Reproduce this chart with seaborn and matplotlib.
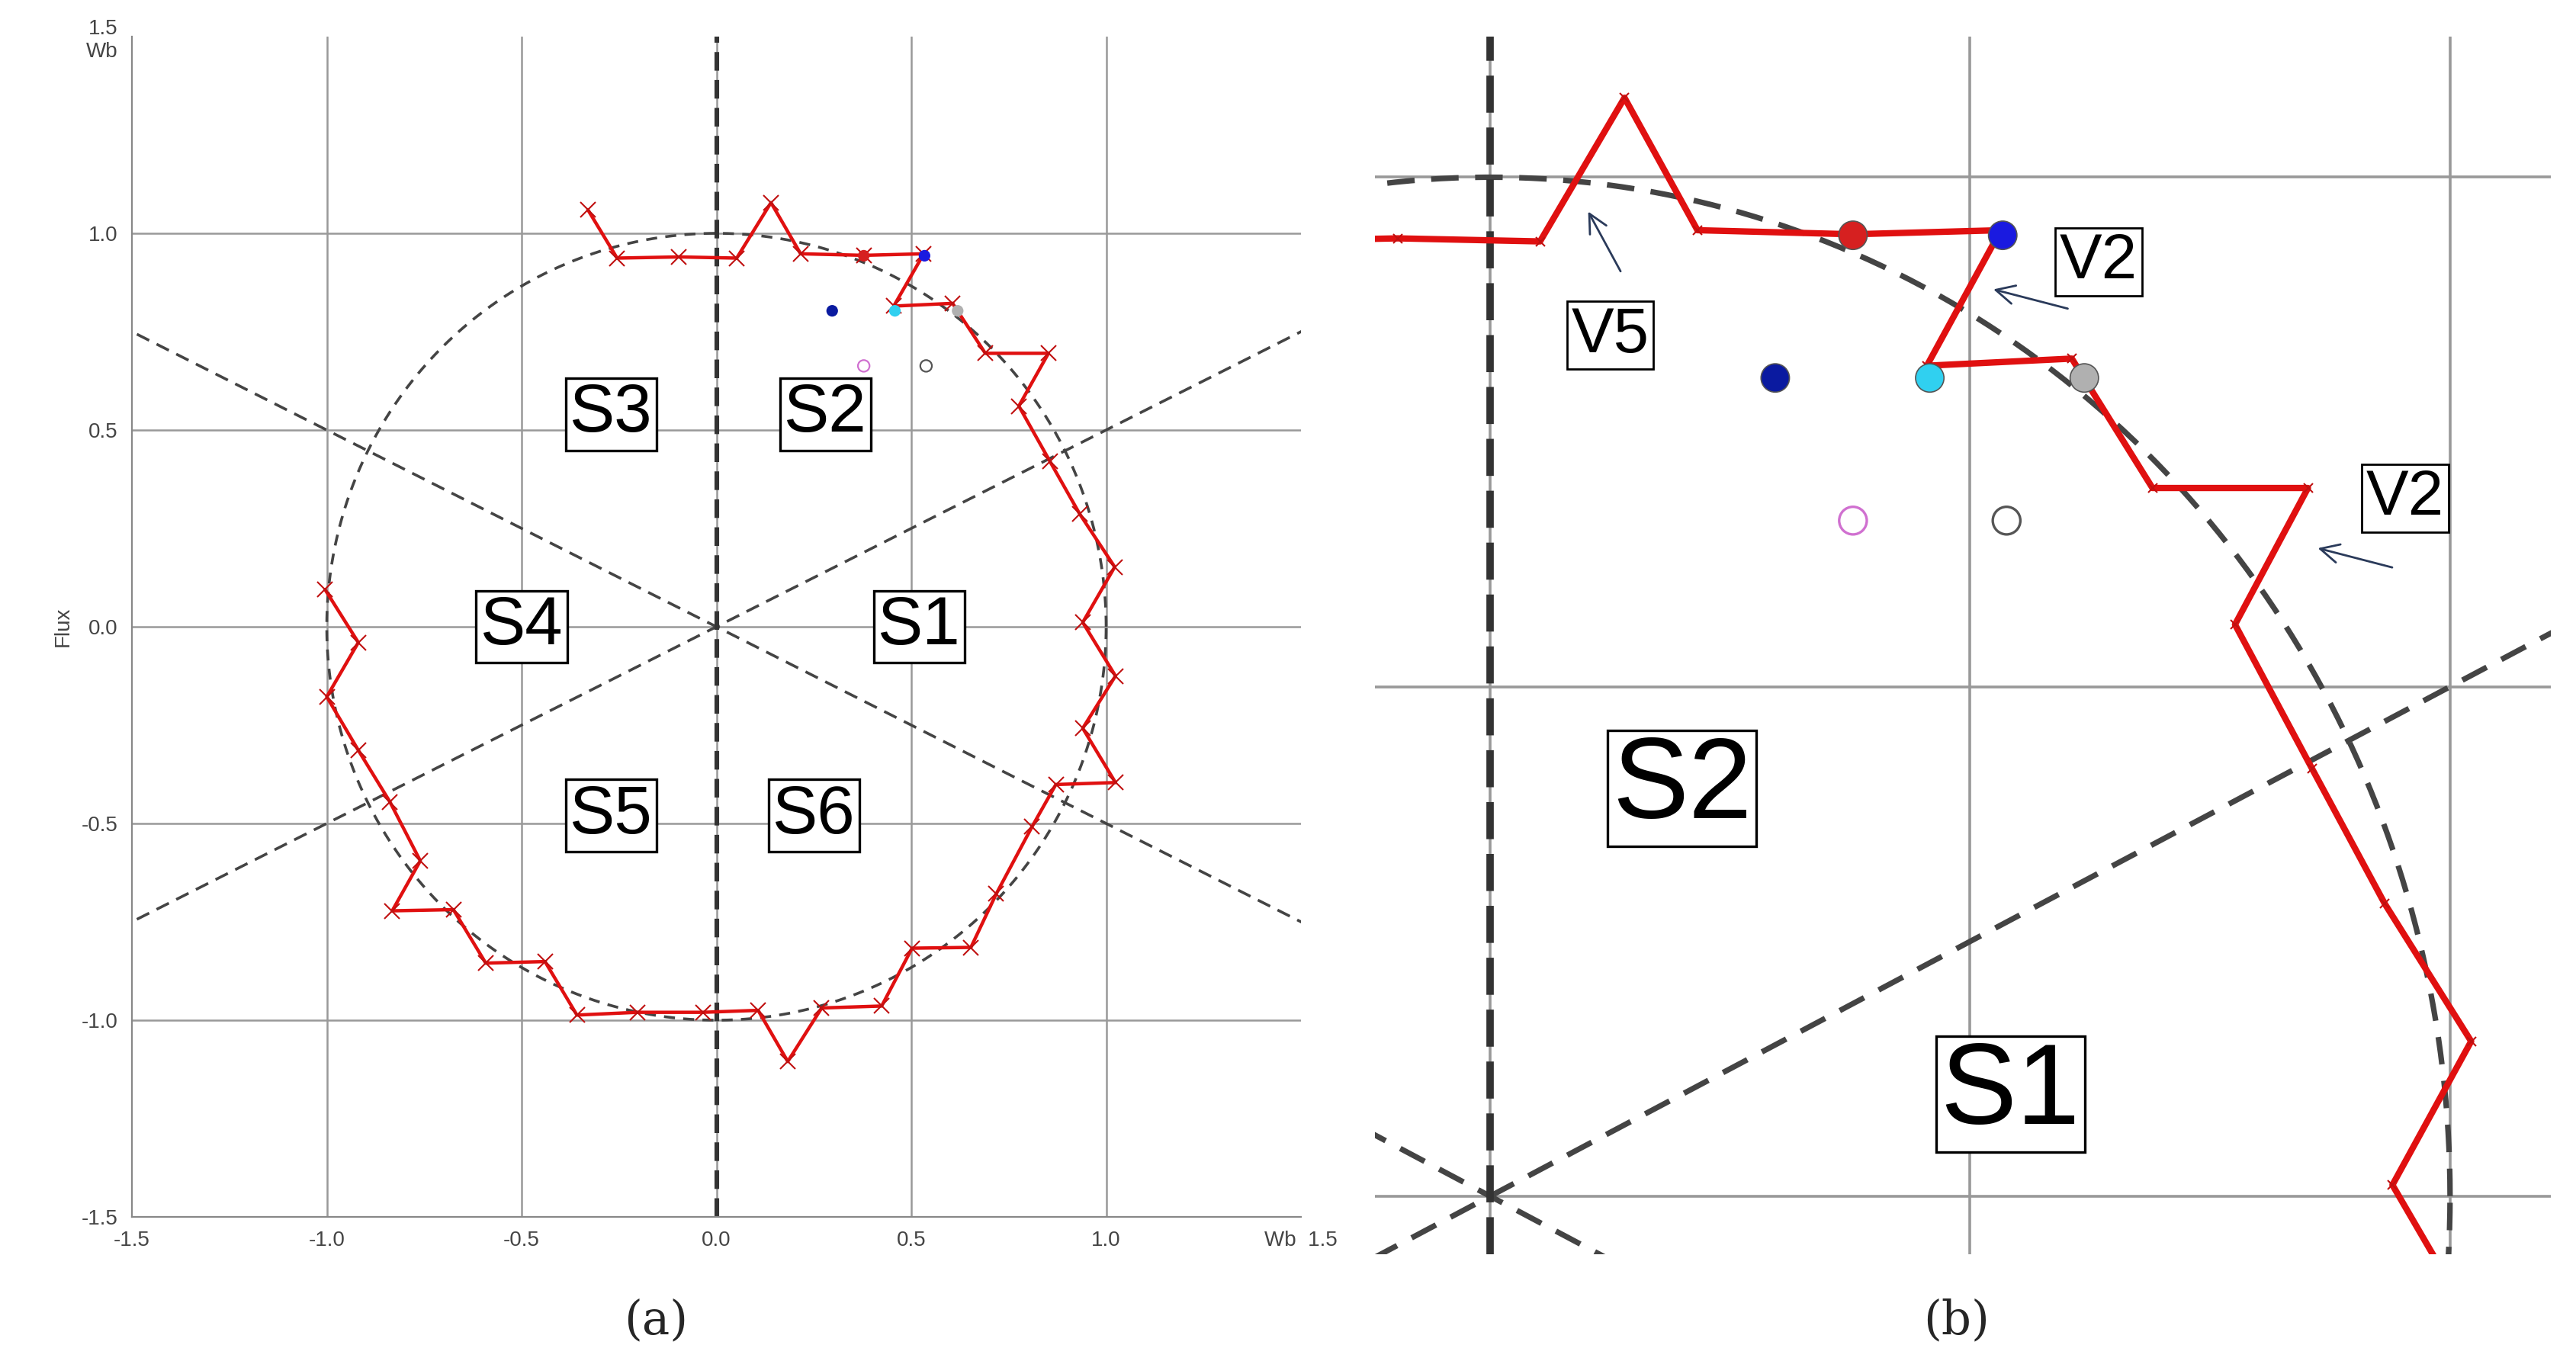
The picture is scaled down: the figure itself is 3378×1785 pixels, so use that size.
import numpy as np
import pandas as pd
import matplotlib.pyplot as plt
import seaborn as sns

# trajectoire du flux (Wb)
flux_x = [-0.33, -0.255, -0.096, 0.052, 0.14, 0.216, 0.378, 0.532, 0.455, 0.606, 0.69, 0.852,
          0.776, 0.856, 0.932, 1.022, 0.94, 1.024, 0.94, 1.024, 0.871, 0.81, 0.718, 0.653,
          0.502, 0.424, 0.27, 0.183, 0.107, -0.035, -0.203, -0.358, -0.44, -0.592, -0.675,
          -0.832, -0.76, -0.838, -0.919, -1.0, -0.919, -1.004]
flux_y = [1.06, 0.937, 0.94, 0.937, 1.078, 0.948, 0.944, 0.948, 0.815, 0.822, 0.695, 0.695,
          0.561, 0.42, 0.287, 0.152, 0.011, -0.125, -0.258, -0.396, -0.401, -0.508, -0.679,
          -0.815, -0.817, -0.964, -0.969, -1.105, -0.975, -0.98, -0.98, -0.987, -0.851,
          -0.855, -0.719, -0.722, -0.595, -0.445, -0.314, -0.178, -0.04, 0.094]

# points de couleur
pts_x = [0.378, 0.534, 0.297, 0.458, 0.619]
pts_y = [0.943, 0.943, 0.803, 0.803, 0.803]
pts_col = ['#d62020', '#1a1ae0', '#0a1aa0', '#30d0f0', '#b0b0b0']
hollow_x = [0.378, 0.538]
hollow_y = [0.663, 0.663]
hollow_col = ['#d070d0', '#555555']

secteurs = ['S1', 'S2', 'S3', 'S4', 'S5', 'S6']
sect_x = [0.52, 0.28, -0.27, -0.5, -0.27, 0.25]
sect_y = [0.0, 0.54, 0.54, 0.0, -0.48, -0.48]

df = pd.DataFrame({'x': flux_x, 'y': flux_y})

sns.set_style('white')
plt.rcParams['font.family'] = ['Liberation Sans', 'DejaVu Sans']
fig = plt.figure(figsize=(16.89, 8.925), dpi=200)
W, H = 3378, 1785
ax1 = fig.add_axes([173/W, 1 - 1596/H, (1706-173)/W, (1596-48)/H])
ax2 = fig.add_axes([1803/W, 1 - 1645/H, (3345-1803)/W, (1645-48)/H])

t = np.linspace(0, 2*np.pi, 400)
for ax, big in [(ax1, False), (ax2, True)]:
    lw = 2.6 if big else 1.3
    ax.set_xlim(-1.5, 1.5)
    ax.set_ylim(-1.5, 1.5)
    for g in [-1.0, -0.5, 0.5, 1.0, 0.0]:
        ax.axvline(g, color='#999999', lw=0.9 if not big else 1.3, zorder=0)
        ax.axhline(g, color='#999999', lw=0.9 if not big else 1.3, zorder=0)
    ax.plot(np.cos(t), np.sin(t), ls=(0, (4, 3)) if not big else (0, (5, 3)),
            color='#444444', lw=lw, zorder=1)
    s = np.linspace(-2, 2, 2)
    ax.plot(s, s*0.5, ls=(0, (5, 3)), color='#444444', lw=lw, zorder=1)
    ax.plot(s, -s*0.5, ls=(0, (5, 3)), color='#444444', lw=lw, zorder=1)
    ax.axvline(0, ls=(0, (4, 2)) if not big else (0, (5, 2)), color='#333333',
               lw=2.2 if not big else 3.5, zorder=1)
    sns.lineplot(data=df, x='x', y='y', sort=False, estimator=None, ax=ax,
                 color='#e01010', lw=1.6 if not big else 3.0,
                 marker='x', markersize=7 if not big else 4, markeredgecolor='#c01010', zorder=3)
    ax.scatter(pts_x, pts_y, c=pts_col, s=30 if not big else 180, zorder=4,
               edgecolors='#555555' if big else 'none', linewidths=0.6)
    ax.scatter(hollow_x, hollow_y, facecolors='white', edgecolors=hollow_col,
               s=30 if not big else 170, lw=0.8 if not big else 1.2, zorder=4)
    ax.set_xlabel('')
    ax.set_ylabel('')

# panneau (a)
ax1.set_xticks([-1.5, -1.0, -0.5, 0.0, 0.5, 1.0, 1.5])
ax1.set_xticklabels(['-1.5', '-1.0', '-0.5', '0.0', '0.5', '1.0', 'Wb  1.5'])
ax1.set_yticks([-1.5, -1.0, -0.5, 0.0, 0.5, 1.0, 1.5])
ax1.set_yticklabels(['-1.5', '-1.0', '-0.5', '0.0', '0.5', '1.0', '1.5\nWb'])
ax1.tick_params(labelsize=10, colors='#444444', length=3)
ax1.set_ylabel('Flux', fontsize=10, color='#444444')
for sp in ['top', 'right']:
    ax1.spines[sp].set_visible(False)
for sp in ['left', 'bottom']:
    ax1.spines[sp].set_color('#888888')
for lab, x, y in zip(secteurs, sect_x, sect_y):
    ax1.text(x, y, lab, fontsize=32, ha='center', va='center', zorder=5, color='black',
             bbox=dict(facecolor='white', edgecolor='black', pad=2, lw=1.2))

# panneau (b) : zoom
ax2.set_xlim(-0.12, 1.105)
ax2.set_ylim(-0.057, 1.138)
ax2.set_xticks([])
ax2.set_yticks([])
for sp in ax2.spines.values():
    sp.set_visible(False)
ax2.text(0.2, 0.40, 'S2', fontsize=54, ha='center', va='center', zorder=5, color='black',
         bbox=dict(facecolor='white', edgecolor='black', pad=2, lw=1.2))
ax2.text(0.542, 0.10, 'S1', fontsize=54, ha='center', va='center', zorder=5, color='black',
         bbox=dict(facecolor='white', edgecolor='black', pad=2, lw=1.2))
for lab, tx, ty, ax0, ay0, ax1_, ay1_ in [('V5', 0.125, 0.845, 0.138, 0.904, 0.10, 0.97),
                                          ('V2', 0.634, 0.917, 0.606, 0.87, 0.52, 0.891),
                                          ('V2', 0.953, 0.685, 0.944, 0.616, 0.858, 0.637)]:
    ax2.text(tx, ty, lab, fontsize=30, ha='center', va='center', zorder=5, color='black',
             bbox=dict(facecolor='white', edgecolor='black', pad=2, lw=1.0))
    ax2.annotate('', xy=(ax1_, ay1_), xytext=(ax0, ay0), zorder=5,
                 arrowprops=dict(arrowstyle='->', color='#2a3a5a', lw=1.0, mutation_scale=22))

fig.text(860/W, 1 - 1732/H, '(a)', fontsize=22, ha='center', va='center', family='serif')
fig.text(2566/W, 1 - 1732/H, '(b)', fontsize=22, ha='center', va='center', family='serif')

fig.savefig('out.png', dpi=200)
